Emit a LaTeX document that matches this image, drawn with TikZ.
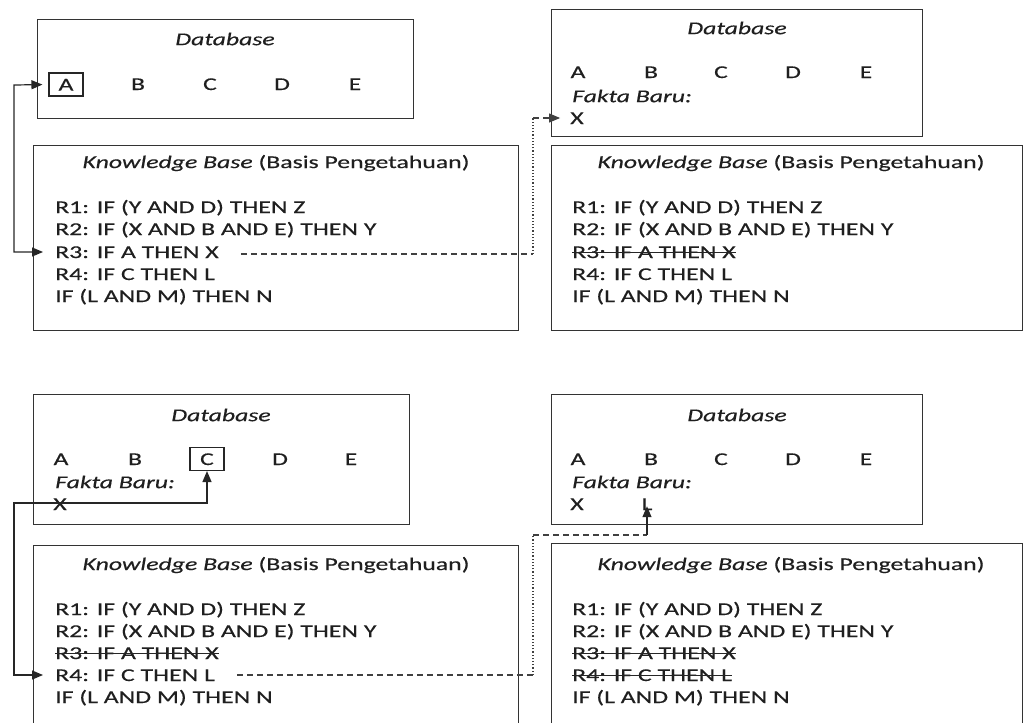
\documentclass[tikz,border=0pt]{standalone}
\usepackage{fontspec}
\setmainfont{Carlito}[FakeStretch=1.43,FakeBold=0.35]
\usetikzlibrary{arrows.meta,calc}
\begin{document}
\begin{tikzpicture}[x=1pt,y=-1pt,
  every node/.style={inner sep=0pt, text=black!88},
  fnt/.style={font=\fontsize{18}{22}\selectfont},
  box/.style={draw=black!80, line width=1.2pt, anchor=north west},
  txt/.style={fnt, text height=12pt, text depth=0pt},
  rule/.style={txt, anchor=west},
  ttl/.style={font=\fontsize{18}{22}\selectfont\itshape},
  kbt/.style={fnt},
  selbox/.style={txt, draw=black!85, line width=1.1pt, minimum width=34pt, minimum height=23pt, text height=12pt},
  arr/.style={line width=1.2pt, draw=black!85},
  tip/.style={-{Triangle[length=11pt,width=9pt]}},
  dashln/.style={line width=1.1pt, draw=black!75, dash pattern=on 6pt off 4pt},
  dotln/.style={line width=1.3pt, draw=black!75, dash pattern=on 1.3pt off 1.9pt},
  strike/.style={line width=1pt, draw=black!85}
]
\useasboundingbox (0,0) rectangle (1029,723);

% ================= Panel 1 =================
\node[box, minimum width=376pt, minimum height=99pt] (db1) at (37,19) {};
\node[ttl] (db1t) at (225,39) {Database};
\node[selbox] (a1) at (66,84.5) {A};
\node[txt] (b1) at (138,84) {B};
\node[txt] (c1) at (210,84) {C};
\node[txt] (d1) at (282,84) {D};
\node[txt] (e1) at (355,84) {E};

\node[box, minimum width=485pt, minimum height=185pt] (kb1) at (33,145) {};
\node[kbt] (kb1t) at (276,163) {\textit{Knowledge Base} (Basis Pengetahuan)};
\node[rule] (r11) at (55,207) {R1: IF (Y AND D) THEN Z};
\node[rule] (r12) at (55,229) {R2: IF (X AND B AND E) THEN Y};
\node[rule] (r13) at (55,252) {R3: IF A THEN X};
\node[rule] (r14) at (55,274) {R4: IF C THEN L};
\node[rule] (r15) at (55,296) {IF (L AND M) THEN N};

\coordinate (k1) at (14,85);
\draw[arr, {Triangle[length=11pt,width=9pt]}-{Triangle[length=11pt,width=9pt]}, shorten <=6pt, shorten >=12pt] (a1.west) -- (k1) |- (r13.west);

% ================= Panel 2 =================
\node[box, minimum width=371pt, minimum height=127pt] (db2) at (551,9) {};
\node[ttl] (db2t) at (737,28) {Database};
\node[txt] (a2) at (578,72) {A};
\node[txt] (b2) at (651,72) {B};
\node[txt] (c2) at (721,72) {C};
\node[txt] (d2) at (793,72) {D};
\node[txt] (e2) at (866,72) {E};
\node[ttl, anchor=west] (f2) at (572,96) {Fakta Baru:};
\node[txt] (x2) at (577,118) {X};

\node[box, minimum width=471pt, minimum height=185pt] (kb2) at (551,145) {};
\node[kbt] (kb2t) at (791,163) {\textit{Knowledge Base} (Basis Pengetahuan)};
\node[rule] (r21) at (572,207) {R1: IF (Y AND D) THEN Z};
\node[rule] (r22) at (572,229) {R2: IF (X AND B AND E) THEN Y};
\node[rule] (r23) at (572,252) {R3: IF A THEN X};
\node[rule] (r24) at (572,274) {R4: IF C THEN L};
\node[rule] (r25) at (572,296) {IF (L AND M) THEN N};
\draw[strike] (r23.west) -- (r23.east);

% connector panel 1 -> panel 2
\coordinate (m1) at (533,254);
\coordinate (m2) at (533,118);
\draw[dashln] ([xshift=22pt,yshift=-2pt]r13.east) -- (m1);
\draw[dotln] (m1) -- (m2);
\draw[arr, dashln, tip, shorten >=10pt] (m2) -- (x2.west);

% ================= Panel 3 =================
\node[box, minimum width=376pt, minimum height=130pt] (db3) at (33,394) {};
\node[ttl] (db3t) at (221,415) {Database};
\node[txt] (a3) at (61,459) {A};
\node[txt] (b3) at (135,459) {B};
\node[selbox] (c3) at (207,459) {C};
\node[txt] (d3) at (280,459) {D};
\node[txt] (e3) at (351,459) {E};
\node[ttl, anchor=west] (f3) at (55,482) {Fakta Baru:};
\node[txt] (x3) at (60,504) {X};

\node[box, minimum width=485pt, minimum height=200pt] (kb3) at (33,545) {};
\node[kbt] (kb3t) at (276,565) {\textit{Knowledge Base} (Basis Pengetahuan)};
\node[rule] (r31) at (55,609) {R1: IF (Y AND D) THEN Z};
\node[rule] (r32) at (55,631) {R2: IF (X AND B AND E) THEN Y};
\node[rule] (r33) at (55,653) {R3: IF A THEN X};
\node[rule] (r34) at (55,675) {R4: IF C THEN L};
\node[rule] (r35) at (55,697) {IF (L AND M) THEN N};
\draw[strike] (r33.west) -- (r33.east);

\coordinate (k3) at (14,503);
\draw[arr, {Triangle[length=11pt,width=9pt]}-{Triangle[length=11pt,width=9pt]}, shorten >=12pt] (c3.south) |- (k3) |- (r34.west);

% ================= Panel 4 =================
\node[box, minimum width=371pt, minimum height=130pt] (db4) at (551,394) {};
\node[ttl] (db4t) at (737,415) {Database};
\node[txt] (a4) at (578,459) {A};
\node[txt] (b4) at (651,459) {B};
\node[txt] (c4) at (721,459) {C};
\node[txt] (d4) at (793,459) {D};
\node[txt] (e4) at (866,459) {E};
\node[ttl, anchor=west] (f4) at (572,482) {Fakta Baru:};
\node[txt] (x4) at (577,504) {X};
\node[txt] (l4) at (647,504) {L};

\node[box, minimum width=471pt, minimum height=200pt] (kb4) at (551,543) {};
\node[kbt] (kb4t) at (791,565) {\textit{Knowledge Base} (Basis Pengetahuan)};
\node[rule] (r41) at (572,609) {R1: IF (Y AND D) THEN Z};
\node[rule] (r42) at (572,631) {R2: IF (X AND B AND E) THEN Y};
\node[rule] (r43) at (572,653) {R3: IF A THEN X};
\node[rule] (r44) at (572,675) {R4: IF C THEN L};
\node[rule] (r45) at (572,697) {IF (L AND M) THEN N};
\draw[strike] (r43.west) -- (r43.east);
\draw[strike] (r44.west) -- (r44.east);

% connector panel 3 -> panel 4
\coordinate (m3) at (533,675);
\coordinate (m4) at (533,535);
\coordinate (m5) at (647,535);
\draw[dashln] ([xshift=22pt]r34.east) -- (m3);
\draw[dotln] (m3) -- (m4);
\draw[dashln] (m4) -- (m5);
\draw[arr, tip, shorten >=-4pt] (m5) -- (l4.south);
\end{tikzpicture}
\end{document}
